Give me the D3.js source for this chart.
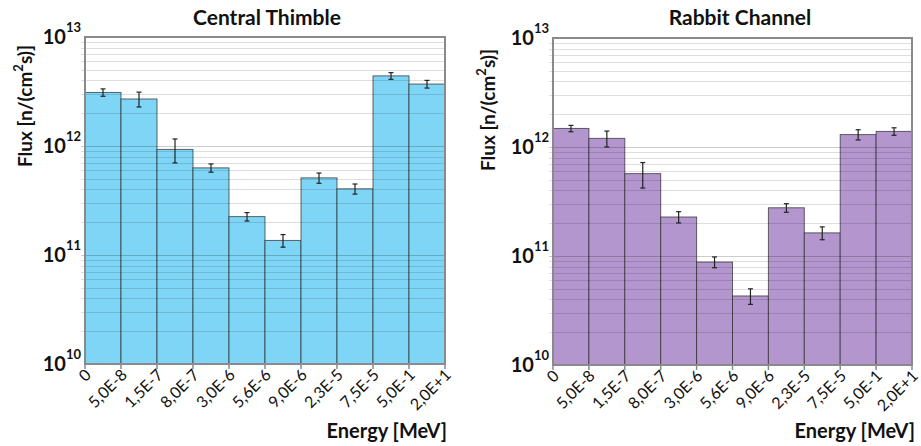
<!DOCTYPE html>
<html>
<head>
<meta charset="utf-8">
<script src="https://cdn.jsdelivr.net/npm/d3@7"></script>
<style>
  html, body { margin: 0; padding: 0; background: #ffffff; }
  svg { display: block; font-family: Lato, "Open Sans", sans-serif; }
</style>
</head>
<body>
<svg id="chart" width="921" height="446"></svg>
<script>
// Energy bin boundaries (MeV), as printed under each axis
const energyBounds = ["0", "5,0E-8", "1,5E-7", "8,0E-7", "3,0E-6", "5,6E-6",
                      "9,0E-6", "2,3E-5", "7,5E-5", "5,0E-1", "2,0E+1"];

// Flux per energy bin, n/(cm^2 s)
const thimbleFlux = [3.1e12, 2.7e12, 9.3e11, 6.3e11, 2.25e11, 1.36e11, 5.1e11, 4.05e11, 4.4e12, 3.7e12];
const thimbleErr  = [2.4e11, 4.2e11, 2.3e11, 5.5e10, 2.0e10, 1.8e10, 5.5e10, 4.3e10, 3.1e11, 3.0e11];

const rabbitFlux  = [1.48e12, 1.2e12, 5.7e11, 2.28e11, 8.8e10, 4.3e10, 2.77e11, 1.63e11, 1.3e12, 1.39e12];
const rabbitErr   = [1.0e11, 2.0e11, 1.5e11, 2.7e10, 1.0e10, 7e9, 2.5e10, 2.2e10, 1.4e11, 1.1e11];

// Decade ticks on the flux axis
const decadeExponents = [10, 11, 12, 13];

const svg = d3.select("#chart");

const panels = [
  { title: "Central Thimble", flux: thimbleFlux, err: thimbleErr, fill: "#7fd5f5",
    left: 85, right: 445, top: 37, bottom: 364, titleX: 267, ylabX: 25, ylabY: 106, xlabR: 447 },
  { title: "Rabbit Channel", flux: rabbitFlux, err: rabbitErr, fill: "#b496cf",
    left: 553, right: 912, top: 38, bottom: 365, titleX: 740, ylabX: 488, ylabY: 110, xlabR: 915 }
];

panels.forEach(p => {
  const g = svg.append("g");

  const x = d3.scalePoint().domain(energyBounds).range([p.left, p.right]);
  const y = d3.scaleLog().domain([1e10, 1e13]).range([p.bottom, p.top]);

  // minor + major grid values
  const gridVals = [];
  for (let e = 10; e < 13; e++) {
    for (let m = 1; m <= 9; m++) gridVals.push(m * Math.pow(10, e));
  }

  // bars: one per energy bin, spanning consecutive boundaries
  const bins = p.flux.map((v, i) => ({ v, e: p.err[i], a: energyBounds[i], b: energyBounds[i + 1] }));

  g.selectAll("rect.bar").data(bins).join("rect")
    .attr("class", "bar")
    .attr("x", d => x(d.a))
    .attr("width", d => x(d.b) - x(d.a))
    .attr("y", d => y(d.v))
    .attr("height", d => y(1e10) - y(d.v))
    .attr("fill", p.fill)
    .attr("stroke", "rgba(40,40,40,0.7)")
    .attr("stroke-width", 1);

  // horizontal grid lines, drawn translucent so they show through the bars
  g.selectAll("line.grid").data(gridVals.filter(v => v > 1e10)).join("line")
    .attr("class", "grid")
    .attr("x1", p.left - 4)
    .attr("x2", p.right)
    .attr("y1", d => Math.round(y(d)) + 0.5)
    .attr("y2", d => Math.round(y(d)) + 0.5)
    .attr("stroke", d => decadeExponents.some(e => Math.abs(d - Math.pow(10, e)) < 1) ? "rgba(0,0,0,0.2)" : "rgba(0,0,0,0.13)")
    .attr("stroke-width", 1);

  // error bars
  const cap = 2.5;
  const eb = g.selectAll("g.err").data(bins).join("g").attr("class", "err")
    .attr("stroke", "#222").attr("stroke-width", 1.2);
  eb.append("line")
    .attr("x1", d => (x(d.a) + x(d.b)) / 2).attr("x2", d => (x(d.a) + x(d.b)) / 2)
    .attr("y1", d => y(d.v + d.e)).attr("y2", d => y(d.v - d.e));
  eb.append("line")
    .attr("x1", d => (x(d.a) + x(d.b)) / 2 - cap).attr("x2", d => (x(d.a) + x(d.b)) / 2 + cap)
    .attr("y1", d => y(d.v + d.e)).attr("y2", d => y(d.v + d.e));
  eb.append("line")
    .attr("x1", d => (x(d.a) + x(d.b)) / 2 - cap).attr("x2", d => (x(d.a) + x(d.b)) / 2 + cap)
    .attr("y1", d => y(d.v - d.e)).attr("y2", d => y(d.v - d.e));

  // x tick marks
  g.selectAll("line.xtick").data(energyBounds).join("line")
    .attr("class", "xtick")
    .attr("x1", d => x(d)).attr("x2", d => x(d))
    .attr("y1", p.bottom).attr("y2", p.bottom + 5)
    .attr("stroke", "#8a8a8a").attr("stroke-width", 1.5);

  // plot frame
  g.append("rect")
    .attr("x", p.left).attr("y", p.top)
    .attr("width", p.right - p.left).attr("height", p.bottom - p.top)
    .attr("fill", "none").attr("stroke", "#8a8a8a").attr("stroke-width", 2);

  // x tick labels, rotated
  g.selectAll("text.xlab").data(energyBounds).join("text")
    .attr("class", "xlab")
    .attr("transform", d => `translate(${x(d) + 7},${p.bottom + 12}) rotate(-45)`)
    .attr("text-anchor", "end")
    .attr("font-size", 16)
    .attr("fill", "#111")
    .text(d => d);

  // y decade labels: 10 with superscript exponent
  const yl = g.selectAll("text.ylab").data(decadeExponents).join("text")
    .attr("class", "ylab")
    .attr("x", p.left - 4)
    .attr("y", d => y(Math.pow(10, d)) + 7)
    .attr("text-anchor", "end")
    .attr("font-weight", "bold")
    .attr("font-size", 20)
    .attr("fill", "#111");
  yl.append("tspan").text("10");
  yl.append("tspan").attr("dy", -12).attr("font-size", 13).text(d => d);

  // title
  g.append("text")
    .attr("x", p.titleX).attr("y", 25)
    .attr("text-anchor", "middle")
    .attr("font-weight", "bold").attr("font-size", 21)
    .attr("fill", "#111")
    .text(p.title);

  // y axis title
  const yt = g.append("text")
    .attr("transform", `translate(${p.ylabX + 7},${p.ylabY}) rotate(-90)`)
    .attr("text-anchor", "middle")
    .attr("font-weight", "bold").attr("font-size", 19)
    .attr("fill", "#111");
  yt.append("tspan").text("Flux [n/(cm");
  yt.append("tspan").attr("dy", -9).attr("font-size", 13).text("2");
  yt.append("tspan").attr("dy", 9).text("s)]");

  // x axis title
  g.append("text")
    .attr("x", p.xlabR).attr("y", 438)
    .attr("text-anchor", "end")
    .attr("font-weight", "bold").attr("font-size", 20)
    .attr("fill", "#111")
    .text("Energy [MeV]");
});
</script>
</body>
</html>
